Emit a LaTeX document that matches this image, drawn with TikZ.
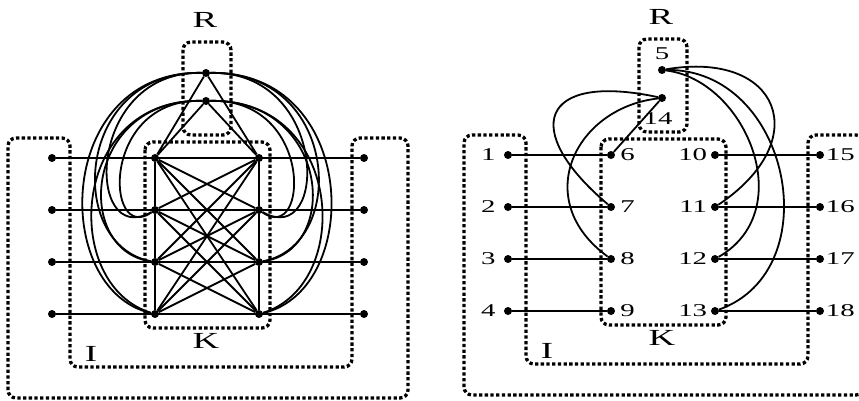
\documentclass[tikz,border=0pt]{standalone}
\usepackage{fontspec}
\usetikzlibrary{positioning}
\newfontfamily\lbl{Liberation Serif}[FakeStretch=1.6]

\tikzset{
  vtx/.style={circle, fill=black, inner sep=0pt, minimum size=8pt},
  edge/.style={line width=1.8pt},
  region/.style={line width=3.3pt, dash pattern=on 3.3pt off 2.4pt, rounded corners=8pt},
  setname/.style={font=\lbl\fontsize{23}{23}\selectfont, inner sep=0pt},
  num/.style={font=\lbl\fontsize{18}{18}\selectfont, inner sep=0pt},
}

\begin{document}
\begin{tikzpicture}[x=1pt, y=-1pt]
\useasboundingbox (0,0) rectangle (859,401);
\clip (0,0) rectangle (859,401);

% ---------------- complete wiring ----------------
\begin{scope}
  % regions R, K and the outer/inner frame
  \draw[region] (183,42) rectangle (231,135);
  \draw[region] (145,142) rectangle (270,328);
  \draw[region] (8,138) -- (70,138) -- (70,367) -- (352,367) -- (352,138)
                -- (408,138) -- (408,398) -- (8,398) -- cycle;

  \node[setname] (lRn) at (205,20) {R};
  \node[setname] (lKn) at (206,341) {K};
  \node[setname] (lIn) at (91,354) {I};

  \foreach \r/\y in {1/158,2/210,3/262,4/314} {
    \node[vtx] (lA\r) at (52,\y) {};
    \node[vtx] (lL\r) at (155,\y) {};
    \node[vtx] (lR\r) at (259,\y) {};
    \node[vtx] (lB\r) at (364,\y) {};
  }
  \node[vtx] (lT) at (206,73) {};
  \node[vtx] (lS) at (206,101) {};

  % through lines
  \foreach \r in {1,...,4} \draw[edge] (lA\r) -- (lB\r);
  % complete graph on the K vertices
  \draw[edge] (lL1) -- (lL2) -- (lL3) -- (lL4);
  \draw[edge] (lR1) -- (lR2) -- (lR3) -- (lR4);
  \foreach \i in {1,...,4} \foreach \j in {1,...,4} \draw[edge] (lL\i) -- (lR\j);
  % R vertices to the top row
  \draw[edge] (lT) -- (lL1) (lT) -- (lR1) (lS) -- (lL1) (lS) -- (lR1);
  % R vertices to the lower rows, left side
  \draw[edge] (lT) .. controls (55,70) and (50,290) .. (lL4);
  \draw[edge] (lS) .. controls (70,98) and (60,285) .. (lL4);
  \draw[edge] (lT) .. controls (75,70) and (65,245) .. (lL3);
  \draw[edge] (lS) .. controls (85,98) and (72,250) .. (lL3);
  \draw[edge] (lT) .. controls (85,70) and (85,250) .. (lL2);
  \draw[edge] (lS) .. controls (100,98) and (105,245) .. (lL2);
  % right side
  \draw[edge] (lT) .. controls (359,70) and (364,290) .. (lR4);
  \draw[edge] (lS) .. controls (344,98) and (354,285) .. (lR4);
  \draw[edge] (lT) .. controls (339,70) and (349,245) .. (lR3);
  \draw[edge] (lS) .. controls (329,98) and (342,250) .. (lR3);
  \draw[edge] (lT) .. controls (329,70) and (329,250) .. (lR2);
  \draw[edge] (lS) .. controls (314,98) and (309,245) .. (lR2);
\end{scope}

% ---------------- sparse wiring ----------------
\begin{scope}[shift={(456,-3)}]
  \draw[region] (183,42) rectangle (231,135);
  \draw[region] (145,142) rectangle (270,328);
  \draw[region] (8,138) -- (70,138) -- (70,367) -- (352,367) -- (352,138)
                -- (408,138) -- (408,398) -- (8,398) -- cycle;

  \node[setname] (rRn) at (205,20) {R};
  \node[setname] (rKn) at (206,341) {K};
  \node[setname] (rIn) at (91,354) {I};

  \foreach \r/\y in {1/158,2/210,3/262,4/314} {
    \pgfmathtruncatemacro{\a}{\r}
    \pgfmathtruncatemacro{\b}{\r+5}
    \pgfmathtruncatemacro{\c}{\r+9}
    \pgfmathtruncatemacro{\d}{\r+14}
    \node[vtx] (n\a) at (52,\y) {};
    \node[vtx] (n\b) at (155,\y) {};
    \node[vtx] (n\c) at (259,\y) {};
    \node[vtx] (n\d) at (364,\y) {};
    \node[num, left=8pt of n\a] {\a};
    \node[num, right=5pt of n\b] {\b};
    \node[num, left=3.5pt of n\c] {\c};
    \node[num, right=1.5pt of n\d] {\d};
    \draw[edge] (n\a) -- (n\b);
    \draw[edge] (n\c) -- (n\d);
  }
  \node[vtx] (n5) at (206,73) {};
  \node[vtx] (n14) at (206,101) {};
  \node[num, above=6pt of n5] {5};
  \node[num, below=10pt of n14, xshift=-4pt] {14};

  \draw[edge] (n14) -- (n6);
  \draw[edge] (n14) .. controls (84,75) and (64,133) .. (n7);
  \draw[edge] (n14) .. controls (119,111) and (74,203) .. (n8);
  \draw[edge] (n5) .. controls (324,53) and (359,143) .. (n11);
  \draw[edge] (n5) .. controls (289,83) and (344,213) .. (n12);
  \draw[edge] (n5) .. controls (334,71) and (374,273) .. (n13);
\end{scope}
\end{tikzpicture}
\end{document}
